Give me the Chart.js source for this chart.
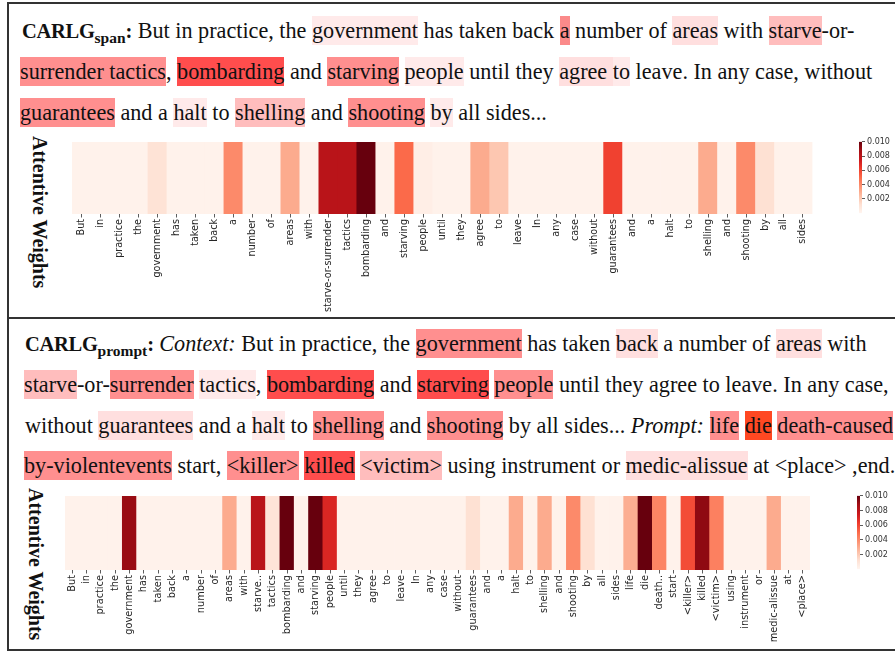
<!DOCTYPE html>
<html>
<head>
<meta charset="utf-8">
<script src="https://cdn.jsdelivr.net/npm/chart.js@4.4.1/dist/chart.umd.min.js"></script>
<style>
  html, body { margin:0; padding:0; background:#fff; width:895px; height:652px; overflow:hidden; position:relative; }
  .rule { position:absolute; background:#333; }
  .line { position:absolute; white-space:nowrap; font-family:"Liberation Serif","Times New Roman",serif; font-size:22.2px; line-height:28px; height:28px; color:#111; }
  .line span { padding:1.7px 0; }
  .lab { font-weight:bold; font-size:20.5px; letter-spacing:-0.3px; }
  .lab sub { font-size:15.5px; vertical-align:-5px; line-height:0; letter-spacing:0; }
  .h1 { background:#ffeaea; }
  .h2 { background:#ffdfdf; }
  .h3 { background:#ffbdbd; }
  .h4 { background:#ff8f8f; }
  .h4a { background:#fb8a8a; }
  .h5 { background:#ff4d4d; }
  .h6 { background:#ff4822; }
  .ylab { position:absolute; writing-mode:vertical-rl; font-family:"Liberation Serif",serif; font-weight:bold; font-size:20px; color:#111; white-space:nowrap; }
  .host { position:absolute; }
</style>
</head>
<body>
<!-- frame -->
<div class="rule" style="left:7px;top:2px;width:890px;height:2px;"></div>
<div class="rule" style="left:7px;top:2px;width:2px;height:649px;"></div>
<div class="rule" style="left:7px;top:317px;width:890px;height:2px;"></div>
<div class="rule" style="left:7px;top:649px;width:890px;height:2px;"></div>

<!-- panel 1 text -->
<div class="line" style="left:22px;top:17px;"><span class="lab">CARLG<sub>span</sub>:</span> But in practice, the <span class="h1">government</span> has taken back <span class="h4a">a</span> number of <span class="h2">areas</span> with <span class="h3">starve</span>-or-</div>
<div class="line" style="left:20px;top:58px;"><span class="h4">surrender tactics</span>, <span class="h5">bombarding</span> and <span class="h4">starving</span> <span class="h1">people</span> until they <span class="h2">agree </span><span class="h1">to</span> leave. In any case, without</div>
<div class="line" style="left:20px;top:99px;"><span class="h4">guarantees</span> and a <span class="h1">halt</span> to <span class="h3">shelling</span> and <span class="h4">shooting</span> <span class="h1">by</span> all sides...</div>
<div class="ylab" style="left:28px;top:136px;">Attentive Weights</div>

<!-- panel 2 text -->
<div class="line" style="left:25px;top:330px;"><span class="lab">CARLG<sub>prompt</sub>:</span> <i>Context:</i> But in practice, the <span class="h4">government</span> has taken <span class="h2">back</span> a number of <span class="h2">areas</span> with</div>
<div class="line" style="left:24px;top:371px;"><span class="h3">starve</span>-or-<span class="h4">surrender</span> <span class="h1">tactics</span>, <span class="h5">bombarding</span> and <span class="h5">starving</span> <span class="h4">people</span> until they agree to leave. In any case,</div>
<div class="line" style="left:25px;top:412px;">without <span class="h2">guarantees</span> and a <span class="h1">halt</span> to <span class="h4">shelling</span> and <span class="h4">shooting</span> by all sides... <i>Prompt:</i> <span class="h4">life</span> <span class="h6">die</span> <span class="h4">death-caused</span></div>
<div class="line" style="left:24px;top:452px;"><span class="h4">by-violentevents</span> start, <span class="h4">&lt;killer&gt;</span> <span class="h5">killed</span> <span class="h3">&lt;victim&gt;</span> using instrument or <span class="h2">medic-alissue</span> at &lt;place&gt; ,end.</div>
<div class="ylab" style="left:24px;top:488px;">Attentive Weights</div>

<div id="hm1" class="host"></div>
<div id="cb1" class="host"></div>
<div id="hm2" class="host"></div>
<div id="cb2" class="host"></div>

<script>
// ---------------- data ----------------
const spanTokens = ["But","in","practice","the","government","has","taken","back","a","number","of","areas","with","starve-or-surrender","tactics","bombarding","and","starving","people","until","they","agree","to","leave","In","any","case","without","guarantees","and","a","halt","to","shelling","and","shooting","by","all","sides"];
const spanWeights = [0.0002,0.0002,0.0002,0.0002,0.0011,0.0002,0.0002,0.0002,0.0040,0.0002,0.0002,0.0030,0.0002,0.0081,0.0081,0.0100,0.0002,0.0050,0.0004,0.0002,0.0002,0.0030,0.0021,0.0002,0.0002,0.0002,0.0002,0.0002,0.0061,0.0002,0.0002,0.0002,0.0002,0.0030,0.0002,0.0040,0.0012,0.0002,0.0002];

const promptTokens = ["But","in","practice","the","government","has","taken","back","a","number","of","areas","with","starve..","tactics","bombarding","and","starving","people","until","they","agree","to","leave","In","any","case","without","guarantees","and","a","halt","to","shelling","and","shooting","by","all","sides","life","die","death..","start","<killer>","killed","<victim>","using","instrument","or","medic-alissue","at","<place>"];
const promptWeights = [0.0002,0.0002,0.0002,0.0002,0.0090,0.0002,0.0002,0.0002,0.0002,0.0002,0.0002,0.0030,0.0002,0.0081,0.0010,0.0100,0.0002,0.0100,0.0070,0.0002,0.0002,0.0002,0.0002,0.0002,0.0002,0.0002,0.0002,0.0002,0.0012,0.0002,0.0002,0.0030,0.0002,0.0030,0.0002,0.0040,0.0012,0.0002,0.0002,0.0029,0.0100,0.0042,0.0002,0.0058,0.0092,0.0043,0.0002,0.0002,0.0002,0.0030,0.0002,0.0002];

const colorbarRange = [0, 0.010];
const colorbarTicks = [0.002, 0.004, 0.006, 0.008, 0.010];

// ---------------- colormap (matplotlib Reds) ----------------
const REDS = [[255,245,240],[254,224,210],[252,187,161],[252,146,114],[251,106,74],[239,59,44],[203,24,29],[165,15,21],[103,0,13]];
function reds(t) {
  t = Math.max(0, Math.min(1, t));
  const p = t * (REDS.length - 1), i = Math.min(Math.floor(p), REDS.length - 2), f = p - i;
  const a = REDS[i], b = REDS[i + 1];
  return `rgb(${Math.round(a[0] + (b[0]-a[0])*f)},${Math.round(a[1] + (b[1]-a[1])*f)},${Math.round(a[2] + (b[2]-a[2])*f)})`;
}
const norm = v => (v - colorbarRange[0]) / (colorbarRange[1] - colorbarRange[0]);

// ---------------- fitting helper ----------------
function fitChart(hostId, target, makeConfig, w0, h0) {
  const host = document.getElementById(hostId);
  let w = w0, h = h0, chart = null;
  for (let pass = 0; pass < 5; pass++) {
    if (chart) chart.destroy();
    host.innerHTML = '';
    const canvas = document.createElement('canvas');
    canvas.width = Math.round(w); canvas.height = Math.round(h);
    host.appendChild(canvas);
    chart = new Chart(canvas, makeConfig());
    const a = chart.chartArea;
    host.style.left = (target.left - a.left) + 'px';
    host.style.top = (target.top - a.top) + 'px';
    const dw = target.width - (a.right - a.left), dh = target.height - (a.bottom - a.top);
    if (Math.abs(dw) < 0.5 && Math.abs(dh) < 0.5) break;
    w += dw; h += dh;
  }
  return chart;
}

Chart.defaults.animation = false;
Chart.defaults.font.family = "'DejaVu Sans', sans-serif";

function heatmapConfig(tokens, weights, fontSize, axisHeight) {
  return () => ({
    type: 'bar',
    data: {
      labels: tokens,
      datasets: [{
        data: weights.map(() => 1),
        backgroundColor: weights.map(v => reds(norm(v))),
        borderWidth: 0,
        barPercentage: 1,
        categoryPercentage: 1
      }]
    },
    options: {
      responsive: false,
      maintainAspectRatio: false,
      layout: { padding: 0 },
      plugins: { legend: { display: false }, tooltip: { enabled: false } },
      scales: {
        x: {
          offset: true,
          afterFit: (s) => { s.height = axisHeight; },
          grid: { display: true, offset: false, drawOnChartArea: false, drawTicks: true, tickLength: 3.5, color: '#333', lineWidth: 0.8 },
          border: { display: false },
          ticks: { autoSkip: false, minRotation: 90, maxRotation: 90, padding: 1.5, color: '#262626', font: { size: fontSize } }
        },
        y: { display: false, min: 0, max: 1 }
      }
    }
  });
}

function colorbarConfig() {
  return () => ({
    type: 'bar',
    data: {
      labels: [''],
      datasets: [{
        data: [colorbarRange],
        borderWidth: 0,
        barPercentage: 1,
        categoryPercentage: 1,
        backgroundColor: (c) => {
          const a = c.chart.chartArea;
          if (!a) return '#fff';
          const g = c.chart.ctx.createLinearGradient(0, a.bottom, 0, a.top);
          for (let i = 0; i < REDS.length; i++) g.addColorStop(i / (REDS.length - 1), reds(i / (REDS.length - 1)));
          return g;
        }
      }]
    },
    options: {
      responsive: false,
      maintainAspectRatio: false,
      layout: { padding: 0 },
      plugins: { legend: { display: false }, tooltip: { enabled: false } },
      scales: {
        x: { display: false },
        y: {
          position: 'right',
          min: colorbarRange[0], max: colorbarRange[1],
          afterBuildTicks: (s) => { s.ticks = colorbarTicks.map(v => ({ value: v })); },
          afterFit: (s) => { s.width = 34; },
          grid: { display: true, drawOnChartArea: false, drawTicks: true, tickLength: 3, color: '#333', lineWidth: 0.8 },
          border: { display: false },
          ticks: { padding: 2, color: '#333', font: { size: 8 }, callback: (v) => Number(v).toFixed(3) }
        }
      }
    }
  });
}

fitChart('hm1', { left: 72, top: 142, width: 740, height: 72 }, heatmapConfig(spanTokens, spanWeights, 9.6, 100), 760, 180);
fitChart('cb1', { left: 858.5, top: 142, width: 3.5, height: 72 }, colorbarConfig(), 40, 76);
fitChart('hm2', { left: 65, top: 496, width: 745, height: 74 }, heatmapConfig(promptTokens, promptWeights, 9.8, 80), 760, 160);
fitChart('cb2', { left: 857, top: 496, width: 3.5, height: 74 }, colorbarConfig(), 40, 78);
</script>
</body>
</html>
